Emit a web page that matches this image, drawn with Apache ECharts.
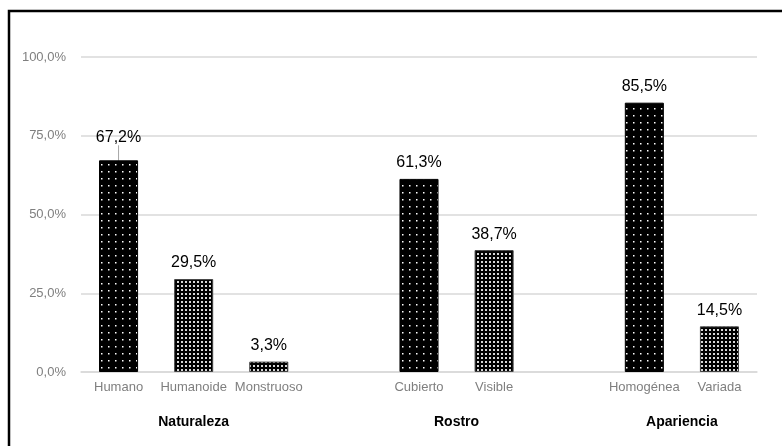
<!DOCTYPE html>
<html>
<head>
<meta charset="utf-8">
<script src="https://cdn.jsdelivr.net/npm/echarts@6/dist/echarts.min.js"></script>
<style>
  html, body { margin: 0; padding: 0; background: #fff; }
  #chart { width: 782px; height: 446px; }
</style>
</head>
<body>
<div id="chart"></div>
<script>
// Survey groups, their answer categories and the share of each answer (%)
const groupNames = ['Naturaleza', 'Rostro', 'Apariencia'];
const groupItems = [
  ['Humano', 'Humanoide', 'Monstruoso'],
  ['Cubierto', 'Visible'],
  ['Homogénea', 'Variada']
];
const groupValues = [
  [67.2, 29.5, 3.3],
  [61.3, 38.7],
  [85.5, 14.5]
];
const yTicks = [0, 25, 50, 75, 100];

const FONT = '"Liberation Sans", Arial, sans-serif';

// Hatch fills: sparse white dots on black, and a dense dotted screen
function sparseDots() {
  const c = document.createElement('canvas');
  c.width = 7; c.height = 7;
  const g = c.getContext('2d');
  g.fillStyle = '#000'; g.fillRect(0, 0, 7, 7);
  g.fillStyle = '#fff'; g.fillRect(3, 3, 1.5, 1.5);
  return c;
}
function denseDots() {
  const c = document.createElement('canvas');
  c.width = 4; c.height = 4;
  const g = c.getContext('2d');
  g.fillStyle = '#000'; g.fillRect(0, 0, 4, 4);
  g.fillStyle = '#d8d8d8'; g.fillRect(1, 1, 2, 2);
  return c;
}
const fillSparse = { image: sparseDots(), repeat: 'repeat' };
const fillDense = { image: denseDots(), repeat: 'repeat' };

// Flatten groups into one category axis with empty slots between groups
const categories = [];
const seriesData = [];
groupItems.forEach((items, gi) => {
  if (gi > 0) { categories.push(''); seriesData.push(null); }
  items.forEach((name, i) => {
    categories.push(name);
    seriesData.push({
      value: groupValues[gi][i],
      itemStyle: {
        color: i === 0 ? fillSparse : fillDense,
        borderColor: i === 0 ? '#000' : '#444',
        borderWidth: 1
      }
    });
  });
});
// The first bar's label sits a little higher, tied to its bar by a short line
seriesData[0].labelLine = { show: true, lineStyle: { color: '#a6a6a6', width: 1 } };

const fmt = v => v.toFixed(1).replace('.', ',') + '%';

const chart = echarts.init(document.getElementById('chart'), null, { renderer: 'canvas' });
chart.setOption({
  animation: false,
  backgroundColor: '#fff',
  grid: { left: 81, right: 25, top: 57, bottom: 74 },
  xAxis: {
    type: 'category',
    data: categories,
    axisLine: { lineStyle: { color: '#d9d9d9', width: 1.5 } },
    axisTick: { show: false },
    axisLabel: { color: '#7f7f7f', fontFamily: FONT, fontSize: 13, margin: 9, interval: 0 }
  },
  yAxis: {
    type: 'value',
    min: yTicks[0],
    max: yTicks[yTicks.length - 1],
    interval: yTicks[1] - yTicks[0],
    axisLine: { show: false },
    axisTick: { show: false },
    splitLine: { lineStyle: { color: '#d9d9d9', width: 1.5 } },
    axisLabel: { color: '#7f7f7f', fontFamily: FONT, fontSize: 13, margin: 15, formatter: fmt }
  },
  series: [{
    type: 'bar',
    data: seriesData,
    barWidth: '52%',
    label: {
      show: true,
      position: 'top',
      distance: 8,
      color: '#000',
      fontFamily: FONT,
      fontSize: 16,
      formatter: p => fmt(p.value)
    },
    labelLine: { show: false },
    labelLayout: p => (p.dataIndex === 0 ? { dy: -7 } : {})
  }]
});

// Group titles centred under each group's categories, plus the frame
function drawGroupTitles() {
  const yBase = chart.convertToPixel({ yAxisIndex: 0 }, 0);
  let idx = 0;
  const els = [];
  groupItems.forEach((items, gi) => {
    if (gi > 0) idx++;
    const x0 = chart.convertToPixel({ xAxisIndex: 0 }, idx);
    const x1 = chart.convertToPixel({ xAxisIndex: 0 }, idx + items.length - 1);
    idx += items.length;
    els.push({
      type: 'text',
      x: (x0 + x1) / 2,
      y: yBase + 50,
      style: {
        text: groupNames[gi],
        fill: '#000',
        font: 'bold 14px ' + FONT,
        align: 'center',
        verticalAlign: 'middle'
      }
    });
  });
  els.push({
    type: 'polyline',
    shape: { points: [[9, 460], [9, 11], [790, 11]] },
    style: { fill: null, stroke: '#000', lineWidth: 2.5 }
  });
  chart.setOption({ graphic: els });
}
drawGroupTitles();
</script>
</body>
</html>
